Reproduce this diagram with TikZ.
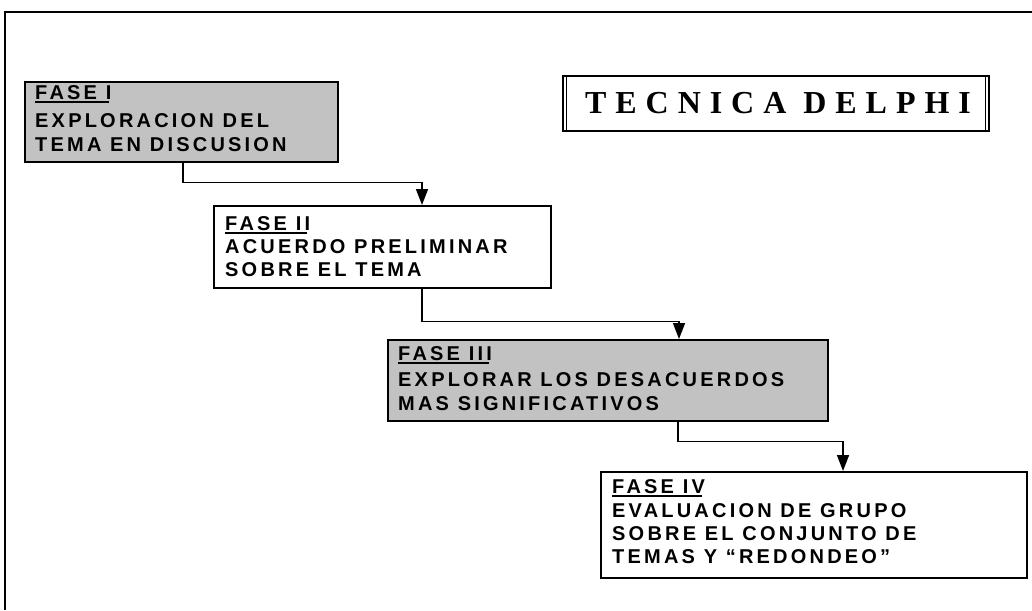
\documentclass[tikz,border=0pt]{standalone}
\usepackage{fontspec}
\setmainfont{Liberation Sans}
\newfontfamily\titlefont[LetterSpace=28]{Liberation Serif}
\newfontfamily\boxfont[LetterSpace=16]{Liberation Sans}
\usetikzlibrary{arrows.meta}
\begin{document}
\begin{tikzpicture}[x=1pt,y=-1pt,
  box/.style={draw, line width=1.6pt, anchor=north west, inner sep=0pt},
  shaded/.style={fill=black!24},
  lbl/.style={anchor=base west, inner sep=0pt, font=\boxfont\bfseries\fontsize{20}{23}\selectfont},
  conn/.style={line width=1.6pt, -{Triangle[length=16pt,width=12pt]}},
  ulline/.style={line width=1.4pt}
]
\useasboundingbox (0,0) rectangle (1032,610);
% outer frame
\coordinate (fa) at (5,610);
\coordinate (fb) at (5,12);
\coordinate (fc) at (1032,12);
\draw[line width=1.4pt] (fa) -- (fb) -- (fc);

% title
\node[draw, line width=1.8pt, minimum width=426pt, minimum height=55pt, anchor=north west, inner sep=0pt] (tbox) at (562,75) {};
\draw[line width=0.9pt] ([xshift=4.5pt]tbox.north west) -- ([xshift=4.5pt]tbox.south west);
\draw[line width=0.9pt] ([xshift=-4.5pt]tbox.north east) -- ([xshift=-4.5pt]tbox.south east);
\node (title) at (778,103) {\titlefont\bfseries\fontsize{32}{32}\selectfont TECNICA DELPHI};

% boxes
\node[box, shaded, minimum width=313pt, minimum height=80pt] (b1) at (24,81) {};
\node[box, minimum width=337pt, minimum height=82pt] (b2) at (213,205) {};
\node[box, shaded, minimum width=440pt, minimum height=81pt] (b3) at (387,339) {};
\node[box, minimum width=426pt, minimum height=106pt] (b4) at (600,471) {};

% box I text
\node[lbl] (f1) at (35,99) {FASE I};
\node[lbl] (t1a) at (35,127) {EXPLORACION DEL};
\node[lbl] (t1b) at (35,151) {TEMA EN DISCUSION};
% box II text
\node[lbl] (f2) at (225,230) {FASE II};
\node[lbl] (t2a) at (225,253) {ACUERDO PRELIMINAR};
\node[lbl] (t2b) at (225,276) {SOBRE EL TEMA};
% box III text
\node[lbl] (f3) at (398,360) {FASE III};
\node[lbl] (t3a) at (398,386) {EXPLORAR LOS DESACUERDOS};
\node[lbl] (t3b) at (398,410) {MAS SIGNIFICATIVOS};
% box IV text
\node[lbl] (f4) at (612,493) {FASE IV};
\node[lbl] (t4a) at (612,517) {EVALUACION DE GRUPO};
\node[lbl] (t4b) at (612,540) {SOBRE EL CONJUNTO DE};
\node[lbl] (t4c) at (612,563) {TEMAS Y “REDONDEO”};

% underlines
\foreach \n in {f1,f2,f3,f4}{
  \draw[ulline] ([yshift=-3pt]\n.base west) -- ([yshift=-3pt,xshift=-3pt]\n.base east);
}

% connectors
\draw[conn] ([xshift=159pt]b1.south west) -- ++(0,20) -| ([xshift=209pt]b2.north west);
\draw[conn] ([xshift=209pt]b2.south west) -- ++(0,33) -| ([xshift=292pt]b3.north west);
\draw[conn] ([xshift=291pt]b3.south west) -- ++(0,20) -| ([xshift=243pt]b4.north west);
\end{tikzpicture}
\end{document}
